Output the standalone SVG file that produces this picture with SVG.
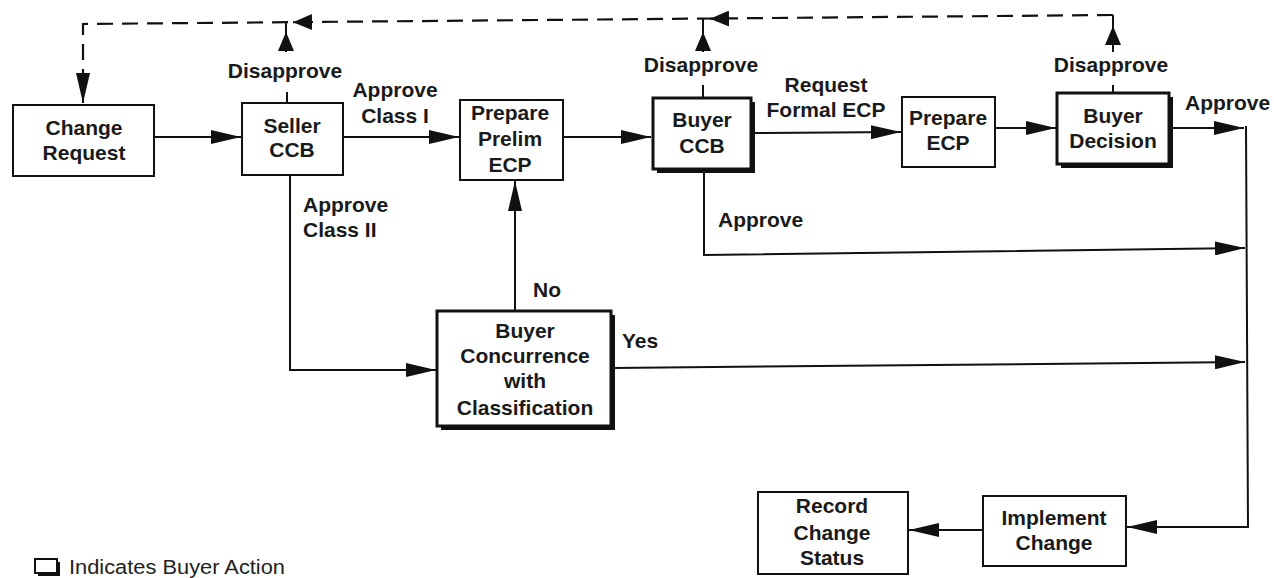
<svg xmlns="http://www.w3.org/2000/svg" width="1274" height="578" viewBox="0 0 1274 578">
<style>
  .box { fill: #fff; stroke: #111; stroke-width: 2; }
  .thick { fill: #fff; stroke: #111; stroke-width: 3; }
  .shadow { fill: #111; stroke: none; }
  .t { font-family: "Liberation Sans", Arial, sans-serif; font-size: 21px; font-weight: bold; fill: #1a1a1a; text-anchor: middle; }
  .lbl { font-family: "Liberation Sans", Arial, sans-serif; font-size: 21px; font-weight: bold; fill: #1a1a1a; }
  .mid { text-anchor: middle; }
  .ln { fill: none; stroke: #111; stroke-width: 2; }
  .dash { fill: none; stroke: #111; stroke-width: 2.2; stroke-dasharray: 16 9; }
  .legend { font-family: "Liberation Sans", Arial, sans-serif; font-size: 20px; fill: #222; }
</style>
<defs>
  <marker id="arr" markerUnits="userSpaceOnUse" markerWidth="30" markerHeight="14" refX="30" refY="7" orient="auto">
    <path d="M0,0 L30,7 L0,14 z" fill="#111"/>
  </marker>
  <marker id="sm" markerUnits="userSpaceOnUse" markerWidth="19" markerHeight="16" refX="19" refY="8" orient="auto">
    <path d="M0,0 L19,8 L0,16 z" fill="#111"/>
  </marker>
</defs>
<rect width="1274" height="578" fill="#fff"/>

<g id="connectors">
  <!-- dashed return path -->
  <path class="dash" d="M1113,15 L83,24 L83,78"/>
  <path class="ln" d="M83,76 L83,103" marker-end="url(#arr)"/>
  <path class="ln" d="M313,22 L293,22.2" marker-end="url(#sm)"/>
  <path class="ln" d="M729,18.6 L710,18.8" marker-end="url(#sm)"/>
  <!-- disapprove stubs and up arrows -->
  <path class="ln" d="M287,92 L287,103"/>
  <path class="ln" d="M286,52 L286,32" marker-end="url(#sm)"/>
  <path class="ln" d="M286,34 L286,22"/>
  <path class="ln" d="M703,85 L703,98"/>
  <path class="ln" d="M703,52 L703,32" marker-end="url(#sm)"/>
  <path class="ln" d="M703,34 L703,19"/>
  <path class="ln" d="M1113,85 L1113,93"/>
  <path class="ln" d="M1113,52 L1113,26" marker-end="url(#sm)"/>
  <path class="ln" d="M1113,28 L1113,15"/>
  <!-- main flow -->
  <path class="ln" d="M154,137 L241,137" marker-end="url(#arr)"/>
  <path class="ln" d="M343,137 L459,137" marker-end="url(#arr)"/>
  <path class="ln" d="M563,137 L651,137" marker-end="url(#arr)"/>
  <path class="ln" d="M753,133 L901,132" marker-end="url(#arr)"/>
  <path class="ln" d="M995,128 L1056,128" marker-end="url(#arr)"/>
  <path class="ln" d="M1170,128 L1244,128" marker-end="url(#arr)"/>
  <path class="ln" d="M1246,126 L1248,527 L1127,527" marker-end="url(#arr)"/>
  <path class="ln" d="M290,175 L290,370 L436,370" marker-end="url(#arr)"/>
  <path class="ln" d="M515,311 L515,181" marker-end="url(#arr)"/>
  <path class="ln" d="M613,368 L1245,362" marker-end="url(#arr)"/>
  <path class="ln" d="M704,170 L704,255 L1245,248" marker-end="url(#arr)"/>
  <path class="ln" d="M983,530 L909,530" marker-end="url(#arr)"/>
</g>

<g id="change-request">
  <rect class="box" x="13" y="105" width="141" height="71"/>
  <text class="t" x="84" y="135">Change</text>
  <text class="t" x="84" y="160">Request</text>
</g>
<g id="seller-ccb">
  <rect class="box" x="242" y="103" width="101" height="72"/>
  <text class="t" x="292" y="133">Seller</text>
  <text class="t" x="292" y="157">CCB</text>
</g>
<g id="prepare-prelim-ecp">
  <rect class="box" x="460" y="100" width="103" height="80"/>
  <text class="t" x="510" y="120">Prepare</text>
  <text class="t" x="510" y="146">Prelim</text>
  <text class="t" x="510" y="172">ECP</text>
</g>
<g id="buyer-ccb">
  <rect class="shadow" x="657" y="102" width="98" height="71"/>
  <rect class="thick" x="653" y="98" width="98" height="71"/>
  <text class="t" x="702" y="127">Buyer</text>
  <text class="t" x="702" y="153">CCB</text>
</g>
<g id="prepare-ecp">
  <rect class="box" x="902" y="97" width="93" height="70"/>
  <text class="t" x="948" y="125">Prepare</text>
  <text class="t" x="948" y="150">ECP</text>
</g>
<g id="buyer-decision">
  <rect class="shadow" x="1061" y="97" width="112" height="71"/>
  <rect class="thick" x="1057" y="93" width="112" height="71"/>
  <text class="t" x="1113" y="123">Buyer</text>
  <text class="t" x="1113" y="148">Decision</text>
</g>
<g id="buyer-concurrence">
  <rect class="shadow" x="441" y="315" width="174" height="115"/>
  <rect class="thick" x="437" y="311" width="174" height="115"/>
  <text class="t" x="525" y="338">Buyer</text>
  <text class="t" x="525" y="363">Concurrence</text>
  <text class="t" x="525" y="388">with</text>
  <text class="t" x="525" y="415">Classification</text>
</g>
<g id="record-change-status">
  <rect class="box" x="758" y="492" width="150" height="82"/>
  <text class="t" x="832" y="513">Record</text>
  <text class="t" x="832" y="540">Change</text>
  <text class="t" x="832" y="565">Status</text>
</g>
<g id="implement-change">
  <rect class="box" x="983" y="496" width="143" height="70"/>
  <text class="t" x="1054" y="525">Implement</text>
  <text class="t" x="1054" y="550">Change</text>
</g>

<g id="labels">
  <text class="lbl mid" x="285" y="78">Disapprove</text>
  <text class="lbl mid" x="701" y="72">Disapprove</text>
  <text class="lbl mid" x="1111" y="72">Disapprove</text>
  <text class="lbl mid" x="395" y="97">Approve</text>
  <text class="lbl mid" x="395" y="123">Class I</text>
  <text class="lbl mid" x="826" y="92">Request</text>
  <text class="lbl mid" x="826" y="117">Formal ECP</text>
  <text class="lbl" x="1185" y="110">Approve</text>
  <text class="lbl" x="303" y="212">Approve</text>
  <text class="lbl" x="303" y="237">Class II</text>
  <text class="lbl" x="533" y="297">No</text>
  <text class="lbl" x="622" y="348">Yes</text>
  <text class="lbl" x="718" y="227">Approve</text>
</g>

<g id="legend">
  <rect class="shadow" x="38" y="562" width="22" height="14"/>
  <rect class="box" x="35" y="559" width="22" height="14"/>
  <text class="legend" x="69" y="574" textLength="216" lengthAdjust="spacingAndGlyphs">Indicates Buyer Action</text>
</g>
</svg>
